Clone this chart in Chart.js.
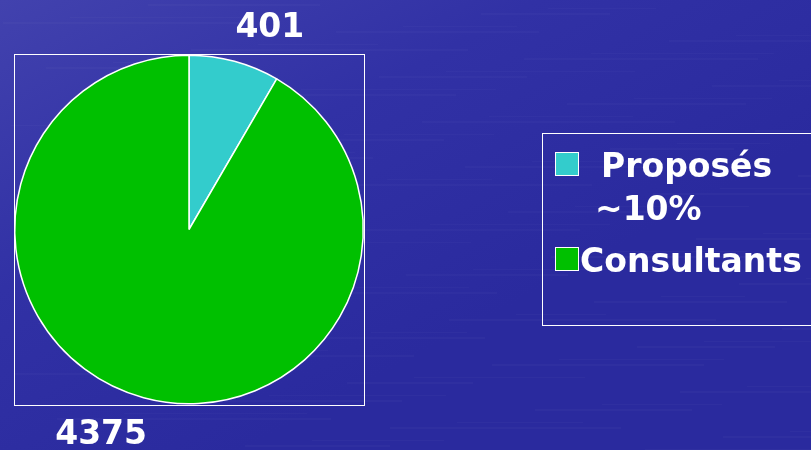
<!DOCTYPE html>
<html>
<head>
<meta charset="utf-8">
<script src="https://cdn.jsdelivr.net/npm/chart.js@4/dist/chart.umd.min.js"></script>
<style>
  html, body { margin: 0; padding: 0; background: #2d2d9f; }
  #wrap { width: 811px; height: 450px; position: relative; }
</style>
</head>
<body>
<div id="wrap"><canvas id="pieChart" width="811" height="450"></canvas></div>
<script>
// data
const categories = ['Proposés ~10%', 'Consultants'];
const legendLines = [['Proposés', '~10%'], ['Consultants']];
const values = [401, 4375];
const sliceColors = ['#33cccc', '#00c000'];

const FONT = 'bold 33px "DejaVu Sans", Verdana, sans-serif';
// label placement: extra angle (deg) past the slice middle, distance as share of radius
const labelNudge = [[6.8, 1.243], [8, 1.285]];

// blue slide background with faint horizontal streaks
const backgroundPlugin = {
    id: 'slideBackground',
    beforeDraw: function(chart) {
        const ctx = chart.ctx;
        const w = chart.width, h = chart.height;
        ctx.save();
        const g = ctx.createLinearGradient(0, 0, w * 0.3, h);
        g.addColorStop(0, '#4242ae');
        g.addColorStop(0.5, '#3131a5');
        g.addColorStop(1, '#2a2a9e');
        ctx.fillStyle = g;
        ctx.fillRect(0, 0, w, h);
        ctx.fillStyle = 'rgba(255,255,255,0.025)';
        for (let y = 4; y < h; y += 9) {
            const x0 = (y * 37) % w;
            ctx.fillRect(x0, y, 120 + (y * 13) % 160, 2);
            ctx.fillRect((x0 + 400) % w, y + 4, 80 + (y * 7) % 120, 1);
        }
        ctx.restore();
    }
};

// white frame around the plot area, value labels and the boxed legend
const decorPlugin = {
    id: 'decor',
    afterDraw: function(chart) {
        const ctx = chart.ctx;
        const area = chart.chartArea;
        ctx.save();
        ctx.strokeStyle = '#ffffff';
        ctx.lineWidth = 1;
        ctx.strokeRect(Math.round(area.left) + 0.5, Math.round(area.top) + 0.5,
                       Math.round(area.right - area.left), Math.round(area.bottom - area.top));

        // value labels outside the slices
        ctx.font = FONT;
        ctx.fillStyle = '#ffffff';
        ctx.textAlign = 'center';
        ctx.textBaseline = 'middle';
        const meta = chart.getDatasetMeta(0);
        meta.data.forEach(function(arc, i) {
            const mid = (arc.startAngle + arc.endAngle) / 2 + labelNudge[i][0] * Math.PI / 180;
            const r = arc.outerRadius * labelNudge[i][1];
            ctx.fillText(values[i].toString(), arc.x + Math.cos(mid) * r, arc.y + Math.sin(mid) * r);
        });

        // legend box
        ctx.strokeRect(542.5, 133.5, 300, 192);
        ctx.textAlign = 'left';
        ctx.textBaseline = 'alphabetic';
        const swatchY = [152, 247];
        const baselines = [[177, 220], [272]];
        const lineX = [[601, 595], [580]];
        legendLines.forEach(function(lines, i) {
            ctx.fillStyle = sliceColors[i];
            ctx.fillRect(555, swatchY[i], 23, 23);
            ctx.strokeStyle = '#ffffff';
            ctx.strokeRect(555.5, swatchY[i] + 0.5, 23, 23);
            ctx.fillStyle = '#ffffff';
            lines.forEach(function(t, j) {
                ctx.fillText(t, lineX[i][j], baselines[i][j]);
            });
        });
        ctx.restore();
    }
};

document.addEventListener('DOMContentLoaded', function() {
    const ctx = document.getElementById('pieChart').getContext('2d');
    new Chart(ctx, {
        type: 'pie',
        data: {
            labels: categories,
            datasets: [{
                data: values,
                backgroundColor: sliceColors,
                borderColor: '#ffffff',
                borderWidth: 1.5
            }]
        },
        options: {
            responsive: false,
            animation: false,
            layout: {
                padding: { left: 14, top: 54, right: 447, bottom: 45 }
            },
            plugins: {
                legend: { display: false },
                tooltip: { enabled: false },
                title: { display: false }
            }
        },
        plugins: [backgroundPlugin, decorPlugin]
    });
});
</script>
</body>
</html>
